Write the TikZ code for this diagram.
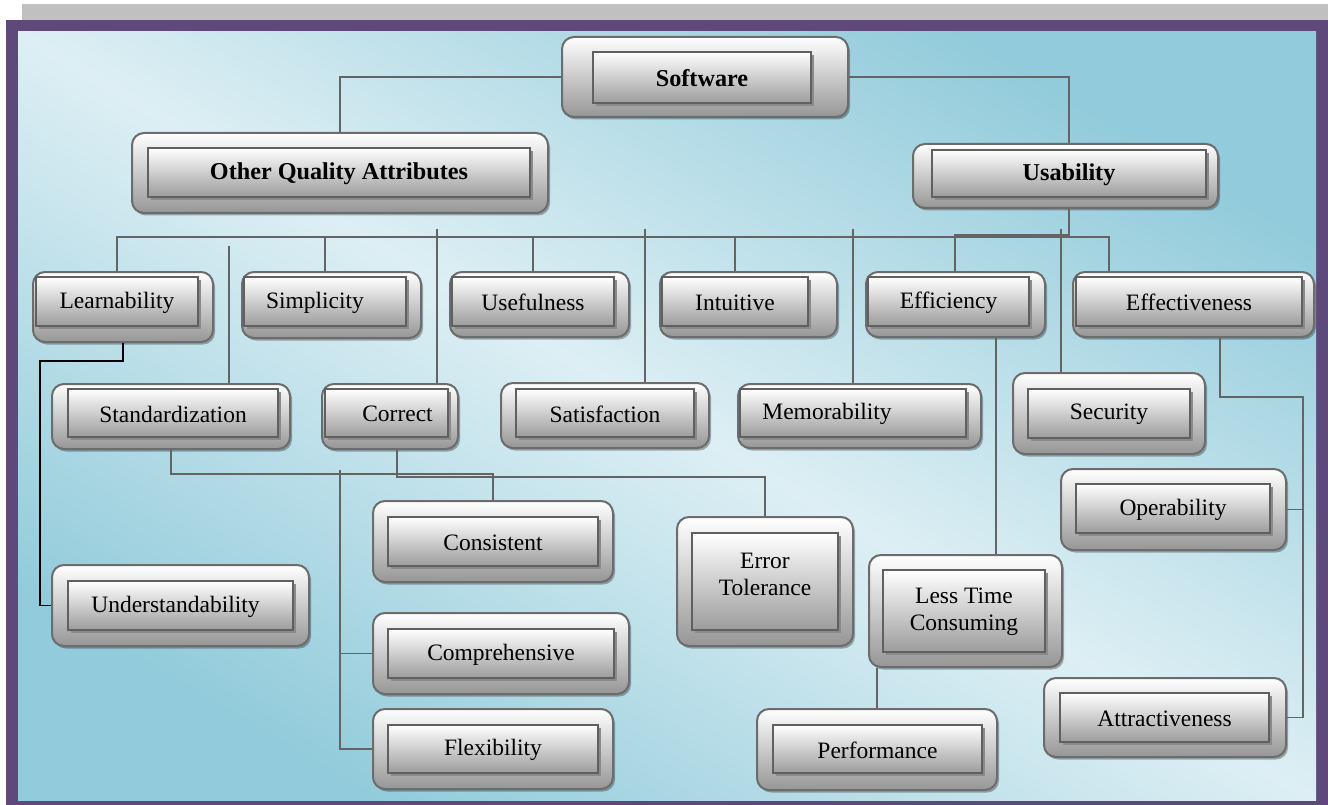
\documentclass[tikz,border=0pt]{standalone}
\usepackage{fontspec}
\setmainfont{Liberation Serif}
\usetikzlibrary{fit,shadows}

\definecolor{frame}{RGB}{94,74,122}
\definecolor{bar}{RGB}{192,192,192}
\definecolor{bgdark}{RGB}{146,203,219}
\definecolor{bglight}{RGB}{221,239,244}
\definecolor{boxedge}{RGB}{108,108,108}
\definecolor{inneredge}{RGB}{96,96,96}
\definecolor{wire}{RGB}{100,100,100}
\definecolor{boxlow}{RGB}{150,150,150}
\definecolor{innerlow}{RGB}{156,156,156}
\definecolor{innershadow}{RGB}{138,138,138}

\tikzset{
  outerbox/.style={rectangle, rounded corners=12pt, draw=boxedge, line width=2pt,
    top color=white, bottom color=boxlow, inner sep=0pt,
    drop shadow={shadow xshift=2pt, shadow yshift=-2.5pt, opacity=0.3, fill=black}},
  innerbox/.style={rectangle, draw=inneredge, line width=1.8pt,
    top color=white, bottom color=innerlow, inner sep=0pt,
    drop shadow={shadow xshift=3pt, shadow yshift=-3pt, opacity=1, fill=innershadow}},
  attrtext/.style={font=\fontsize{23.5}{27}\selectfont, text=black, inner sep=0pt,
    align=center, yshift=-1pt},
  boldtext/.style={font=\fontsize{24.2}{28}\selectfont\bfseries},
  conn/.style={draw=wire, line width=1.9pt},
  link/.style={draw=black, line width=1.5pt},
}

% \attrbox[text options]{name}{outer corners}{inner corners}{label}
\newcommand\attrbox[5][]{%
  \node[outerbox, fit={#3}] (#2) {};
  \node[innerbox, fit={#4}] (#2-in) {};
  \node[attrtext, #1] (#2-txt) at (#2-in.center) {#5};
}

\begin{document}
\begin{tikzpicture}[x=1pt, y=-1pt]
\useasboundingbox (0,0) rectangle (1328,805);

% page frame
\fill[bar] (22,4) rectangle (1328,20);
\fill[frame] (6,20) rectangle (1328,805);
\shade[top color=bgdark, bottom color=bgdark, middle color=bglight, shading angle=-30.6]
  (18,32) rectangle (1316,800);

% boxes
\attrbox[boldtext]{sw}{(562,37) (848,117)}{(593,52) (811,103)}{Software}
\attrbox[boldtext]{oqa}{(132,133) (548,213)}{(148,148) (530,197)}{Other Quality Attributes}
\attrbox[boldtext]{us}{(913,144) (1218,208)}{(932,150) (1206,197)}{Usability}

\attrbox{learn}{(33,272) (213,342)}{(36,277) (198,326)}{Learnability}
\attrbox[xshift=-10pt]{simp}{(242,272) (421,338)}{(244,277) (406,326)}{Simplicity}
\attrbox{usef}{(450,272) (629,337)}{(452,277) (614,326)}{Usefulness}
\attrbox{intu}{(660,272) (837,337)}{(662,277) (808,326)}{Intuitive}
\attrbox{effic}{(866,272) (1045,337)}{(868,277) (1029,326)}{Efficiency}
\attrbox{effect}{(1073,272) (1314,337)}{(1076,277) (1302,326)}{Effectiveness}

\attrbox{std}{(52,384) (290,449)}{(68,389) (278,437)}{Standardization}
\attrbox[xshift=11pt]{corr}{(322,384) (458,449)}{(325,389) (448,437)}{Correct}
\attrbox{satis}{(501,383) (709,448)}{(516,389) (694,437)}{Satisfaction}
\attrbox[xshift=-26pt]{memo}{(738,384) (981,448)}{(740,389) (966,437)}{Memorability}
\attrbox{secu}{(1013,373) (1205,454)}{(1028,389) (1190,438)}{Security}

\attrbox{oper}{(1061,469) (1286,550)}{(1076,484) (1270,533)}{Operability}
\attrbox{cons}{(373,501) (613,582)}{(388,517) (598,566)}{Consistent}
\attrbox[yshift=8pt]{errt}{(677,517) (853,646)}{(692,533) (838,630)}{Error\\Tolerance}
\attrbox{ltc}{(869,555) (1062,667)}{(883,570) (1045,652)}{Less Time\\Consuming}
\attrbox[xshift=-5pt]{und}{(52,565) (309,646)}{(68,581) (293,630)}{Understandability}
\attrbox{comp}{(373,613) (629,694)}{(388,629) (614,678)}{Comprehensive}
\attrbox{flex}{(373,709) (613,789)}{(388,725) (598,773)}{Flexibility}
\attrbox{perf}{(757,709) (997,790)}{(773,725) (982,773)}{Performance}
\attrbox{attr}{(1044,678) (1286,757)}{(1060,693) (1269,742)}{Attractiveness}

% junction points of the wiring
\coordinate (usx)  at (1069,0);
\coordinate (bus)  at (0,237);
\coordinate (bus2) at (0,235);
\coordinate (effx) at (1109,0);
\coordinate (efcx) at (955,0);
\coordinate (cx1)  at (437,229);
\coordinate (cx2)  at (645,229);
\coordinate (cx3)  at (853,229);
\coordinate (cx4)  at (1061,229);
\coordinate (cx5)  at (229,246);
\coordinate (j1)   at (0,474);
\coordinate (j2)   at (397,477);
\coordinate (vx)   at (340,470);
\coordinate (lk)   at (40,361);
\coordinate (e1)   at (996,0);
\coordinate (ea)   at (1220,397);
\coordinate (eb)   at (1303,0);

% top level
\draw[conn] (sw.west) -| (oqa.north);
\draw[conn] (sw.east) -| (us.north -| usx);

% usability bus
\draw[conn] (us.south -| usx) -- (bus -| usx);
\draw[conn] (learn-in.north |- learn.north) |- (bus -| effx) -- (effect.north -| effx);
\foreach \n in {simp,usef,intu}
  \draw[conn] (\n-in.north |- bus) -- (\n-in.north |- \n.north);
\draw[conn] (effic.north -| efcx) -- (bus2 -| efcx) -- (bus2 -| usx);

% long drops to the second row
\draw[conn] (cx1) -- (corr.north -| cx1);
\draw[conn] (cx2) -- (satis.north -| cx2);
\draw[conn] (cx3) -- (memo.north -| cx3);
\draw[conn] (cx4) -- (secu.north -| cx4);
\draw[conn] (cx5) -- (std.north -| cx5);

% lower branches
\draw[conn] (std.south) |- (cons.north |- j1) -- (cons.north);
\draw[conn] (corr.south -| j2) |- (errt.north |- j2) -- (errt.north);
\draw[conn] (vx) |- (flex.west);
\draw[conn] (comp.west -| vx) -- (comp.west);
\draw[link] (learn.south) |- (lk) |- (und.west);
\draw[conn] (effic.south -| e1) -- (ltc.north -| e1);
\draw[conn] (ltc.south -| perf.north) -- (perf.north);
\draw[conn] (effect.south -| ea) |- (eb |- ea) |- (attr.east);
\draw[conn] (oper.east) -- (oper.east -| eb);
\end{tikzpicture}
\end{document}
